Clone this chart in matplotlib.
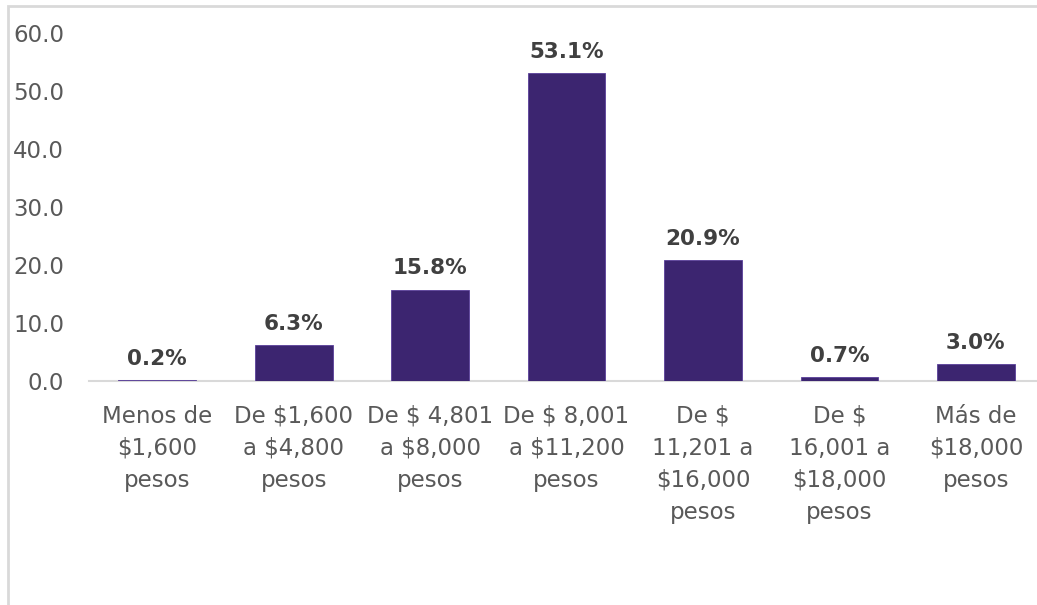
import numpy as np
import matplotlib.pyplot as plt
from matplotlib.patches import Rectangle

# données
categorias = ["Menos de\n$1,600\npesos", "De $1,600\na $4,800\npesos",
              "De $ 4,801\na $8,000\npesos", "De $ 8,001\na $11,200\npesos",
              "De $\n11,201 a\n$16,000\npesos", "De $\n16,001 a\n$18,000\npesos",
              "Más de\n$18,000\npesos"]
porcentajes = [0.2, 6.3, 15.8, 53.1, 20.9, 0.7, 3.0]
yticks = [0, 10, 20, 30, 40, 50, 60]

plt.rcParams['font.family'] = ['DejaVu Sans']
fig = plt.figure(figsize=(10.37, 6.05), dpi=100)
ax = fig.add_axes([0.0858, 0.370, 0.921, 0.575])

x = np.arange(len(categorias))
bars = ax.bar(x, porcentajes, width=0.57, color='#3c2570',
              edgecolor='#5a3f9a', linewidth=0.6, zorder=3)
for xi, v in zip(x, porcentajes):
    ax.annotate(f"{v:.1f}%", (xi, v), xytext=(0, 8), textcoords='offset points',
                ha='center', va='bottom', fontsize=15.5, fontweight='bold',
                color='#404040')

ax.set_xlim(-0.5, len(categorias) - 0.5)
ax.set_ylim(0, 60)
ax.set_yticks(yticks)
ax.set_yticklabels([f"{t:.1f}" for t in yticks])
ax.set_xticks(x)
ax.set_xticklabels(categorias, linespacing=1.5)
ax.tick_params(axis='both', length=0, labelsize=16.5, labelcolor='#595959')
ax.tick_params(axis='y', pad=18)
ax.tick_params(axis='x', pad=17)
for s in ['top', 'right', 'left']:
    ax.spines[s].set_visible(False)
ax.spines['bottom'].set_color('#d9d9d9')
ax.spines['bottom'].set_linewidth(1.5)

# cadre gris clair
fig.patches.append(Rectangle((8/1037, -0.1), 1.2, 1.1 - 6/605, transform=fig.transFigure,
                             fill=False, edgecolor='#d9d9d9', linewidth=2))

fig.savefig("out.png", dpi=100)
